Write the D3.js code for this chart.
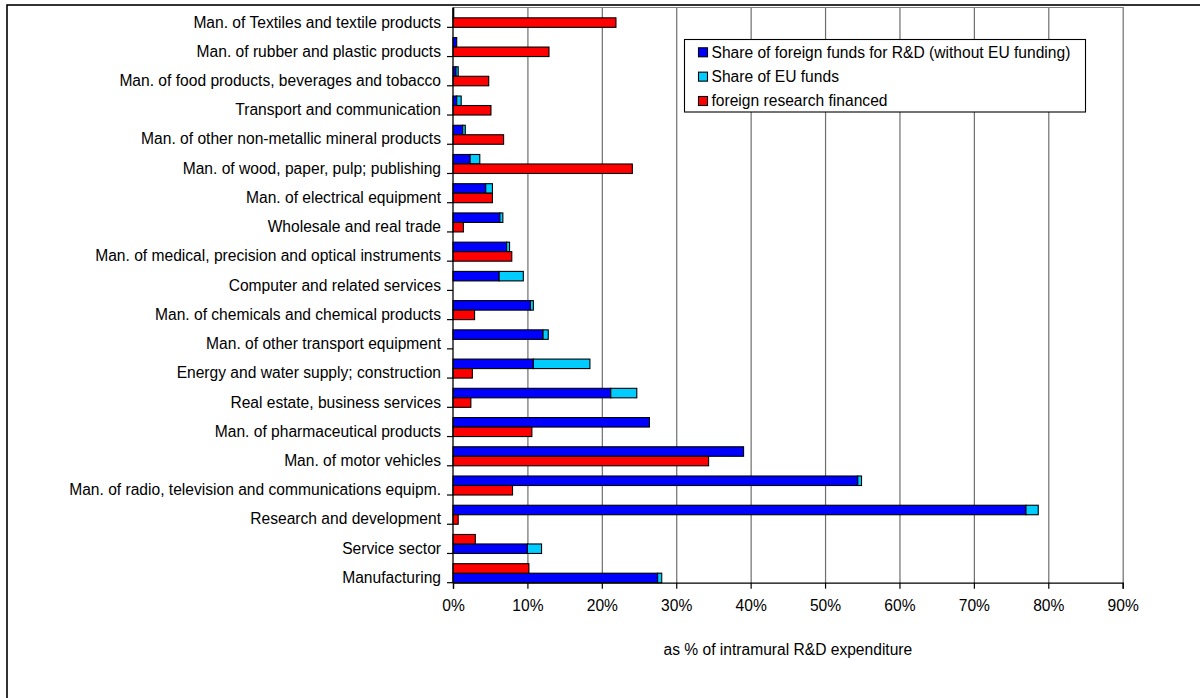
<!DOCTYPE html>
<html>
<head>
<meta charset="utf-8">
<script src="https://cdn.jsdelivr.net/npm/d3@7"></script>
<style>
  body { margin: 0; background: #fff; }
  svg { display: block; }
  text { font-family: "Liberation Sans", Arial, sans-serif; fill: #000; }
</style>
</head>
<body>
<svg id="chart" width="1200" height="698"></svg>
<script>
// Sectors, listed top to bottom
const categories = [
  "Man. of Textiles and textile products",
  "Man. of rubber and plastic products",
  "Man. of food products, beverages and tobacco",
  "Transport and communication",
  "Man. of other non-metallic mineral products",
  "Man. of wood, paper, pulp; publishing",
  "Man. of electrical equipment",
  "Wholesale and real trade",
  "Man. of medical, precision and optical instruments",
  "Computer and related services",
  "Man. of chemicals and chemical products",
  "Man. of other transport equipment",
  "Energy and water supply; construction",
  "Real estate, business services",
  "Man. of pharmaceutical products",
  "Man. of motor vehicles",
  "Man. of radio, television and communications equipm.",
  "Research and development",
  "Service sector",
  "Manufacturing"
];

// Share of foreign funds for R&D without EU funding (% of intramural R&D expenditure)
const foreignShare = [0.1, 0.5, 0.4, 0.5, 1.3, 2.3, 4.4, 6.3, 7.2, 6.2, 10.4, 12.1, 10.8, 21.2, 26.4, 39.05, 54.4, 77.0, 10.0, 27.5];
// Share of EU funds (stacked on top of the foreign share)
const euShare = [0, 0, 0.3, 0.6, 0.35, 1.3, 0.9, 0.4, 0.4, 3.25, 0.4, 0.7, 7.6, 3.5, 0, 0, 0.5, 1.65, 1.9, 0.55];
// Foreign research financed (% of intramural R&D expenditure)
const foreignFinanced = [21.9, 12.9, 4.8, 5.1, 6.8, 24.1, 5.3, 1.4, 7.9, 0, 2.9, 0, 2.6, 2.4, 10.6, 34.35, 8.0, 0.7, 3.0, 10.2];

// Aggregates where the financed bar sits above the funding bar
const redOnTop = ["Service sector", "Manufacturing"];

const xTicks = [0, 10, 20, 30, 40, 50, 60, 70, 80, 90];
const seriesNames = [
  "Share of foreign funds for R&D (without EU funding)",
  "Share of EU funds",
  "foreign research financed"
];
const seriesColors = ["#0000ff", "#00ccff", "#ff0000"];
const axisTitle = "as % of intramural R&D expenditure";

const svg = d3.select("#chart");
const fontSize = 15.6;

// Layout of the plotting area
const plot = { left: 453, right: 1122.7, top: 7.5, bottom: 582.7 };
const step = 29.23;

const x = d3.scaleLinear().domain([0, 90]).range([plot.left, plot.right]);
const y = d3.scaleBand()
  .domain(categories)
  .range([plot.bottom - step * categories.length, plot.bottom])
  .padding(0);
const bw = y.bandwidth();
const slotH = bw * 0.325;

// Outer chart frame
svg.append("rect")
  .attr("x", 7).attr("y", 5)
  .attr("width", 1200).attr("height", 720)
  .attr("fill", "none").attr("stroke", "#000").attr("stroke-width", 1.6);

// Vertical gridlines
svg.append("g")
  .selectAll("line")
  .data(xTicks.slice(1))
  .join("line")
  .attr("x1", d => x(d) + 0.5).attr("x2", d => x(d) + 0.5)
  .attr("y1", plot.top).attr("y2", plot.bottom)
  .attr("stroke", "#6e6e6e").attr("stroke-width", 1.2);

// Plot area top border
svg.append("line")
  .attr("x1", plot.left).attr("x2", plot.right + 1)
  .attr("y1", plot.top).attr("y2", plot.top)
  .attr("stroke", "#808080").attr("stroke-width", 1.2);

// Bars
const rows = categories.map((c, i) => ({
  cat: c,
  f: foreignShare[i],
  eu: euShare[i],
  r: foreignFinanced[i],
  swap: redOnTop.includes(c)
}));

const upperY = d => y(d.cat) + bw - 2 * slotH;
const lowerY = d => y(d.cat) + bw - slotH;
const stackY = d => d.swap ? lowerY(d) : upperY(d);
const redY = d => d.swap ? upperY(d) : lowerY(d);

const bars = svg.append("g").attr("stroke", "#000").attr("stroke-width", 1.1);

bars.selectAll("rect.foreign")
  .data(rows.filter(d => d.f > 0))
  .join("rect")
  .attr("class", "foreign")
  .attr("x", x(0)).attr("y", stackY)
  .attr("width", d => x(d.f) - x(0)).attr("height", slotH)
  .attr("fill", seriesColors[0]);

bars.selectAll("rect.eu")
  .data(rows.filter(d => d.eu > 0))
  .join("rect")
  .attr("class", "eu")
  .attr("x", d => x(d.f)).attr("y", stackY)
  .attr("width", d => x(d.f + d.eu) - x(d.f)).attr("height", slotH)
  .attr("fill", seriesColors[1]);

bars.selectAll("rect.fin")
  .data(rows.filter(d => d.r > 0))
  .join("rect")
  .attr("class", "fin")
  .attr("x", x(0)).attr("y", redY)
  .attr("width", d => x(d.r) - x(0)).attr("height", slotH)
  .attr("fill", seriesColors[2]);

// Category axis: line, ticks between categories, labels
svg.append("line")
  .attr("x1", plot.left).attr("x2", plot.left)
  .attr("y1", plot.top).attr("y2", plot.bottom)
  .attr("stroke", "#000").attr("stroke-width", 1.3);

svg.append("g")
  .selectAll("line")
  .data(categories)
  .join("line")
  .attr("x1", plot.left - 6).attr("x2", plot.left)
  .attr("y1", d => y(d) + bw).attr("y2", d => y(d) + bw)
  .attr("stroke", "#000").attr("stroke-width", 1.2);

svg.append("g")
  .selectAll("text")
  .data(categories)
  .join("text")
  .attr("x", plot.left - 12)
  .attr("y", d => y(d) + bw - slotH / 2 - 0.5)
  .attr("dy", "0.35em")
  .attr("text-anchor", "end")
  .style("font-size", fontSize + "px")
  .text(d => d);

// Value axis
const xAxis = d3.axisBottom(x)
  .tickValues(xTicks)
  .tickFormat(d => d + "%")
  .tickSize(6)
  .tickPadding(11);

const gx = svg.append("g")
  .attr("transform", `translate(0,${plot.bottom})`)
  .call(xAxis);
gx.select(".domain").attr("stroke", "#000").attr("stroke-width", 1.3);
gx.selectAll(".tick line").attr("stroke", "#000").attr("stroke-width", 1.2);
gx.selectAll(".tick text")
  .style("font-size", fontSize + "px")
  .style("font-family", '"Liberation Sans", Arial, sans-serif')
  .attr("fill", "#000");

svg.append("text")
  .attr("x", (plot.left + plot.right) / 2)
  .attr("y", 655)
  .attr("text-anchor", "middle")
  .style("font-size", fontSize + "px")
  .text(axisTitle);

// Legend
const legend = svg.append("g").attr("transform", "translate(684.5,39.5)");
legend.append("rect")
  .attr("width", 401).attr("height", 72.5)
  .attr("fill", "#fff").attr("stroke", "#000").attr("stroke-width", 1.1);

const items = legend.selectAll("g.item")
  .data(seriesNames)
  .join("g")
  .attr("class", "item")
  .attr("transform", (d, i) => `translate(14,${12.8 + i * 24.35})`);

items.append("rect")
  .attr("x", 0).attr("y", -4.5)
  .attr("width", 9).attr("height", 9)
  .attr("fill", (d, i) => seriesColors[i])
  .attr("stroke", "#000").attr("stroke-width", 1.1);

items.append("text")
  .attr("x", 13).attr("y", 0)
  .attr("dy", "0.35em")
  .style("font-size", fontSize + "px")
  .text(d => d);
</script>
</body>
</html>
